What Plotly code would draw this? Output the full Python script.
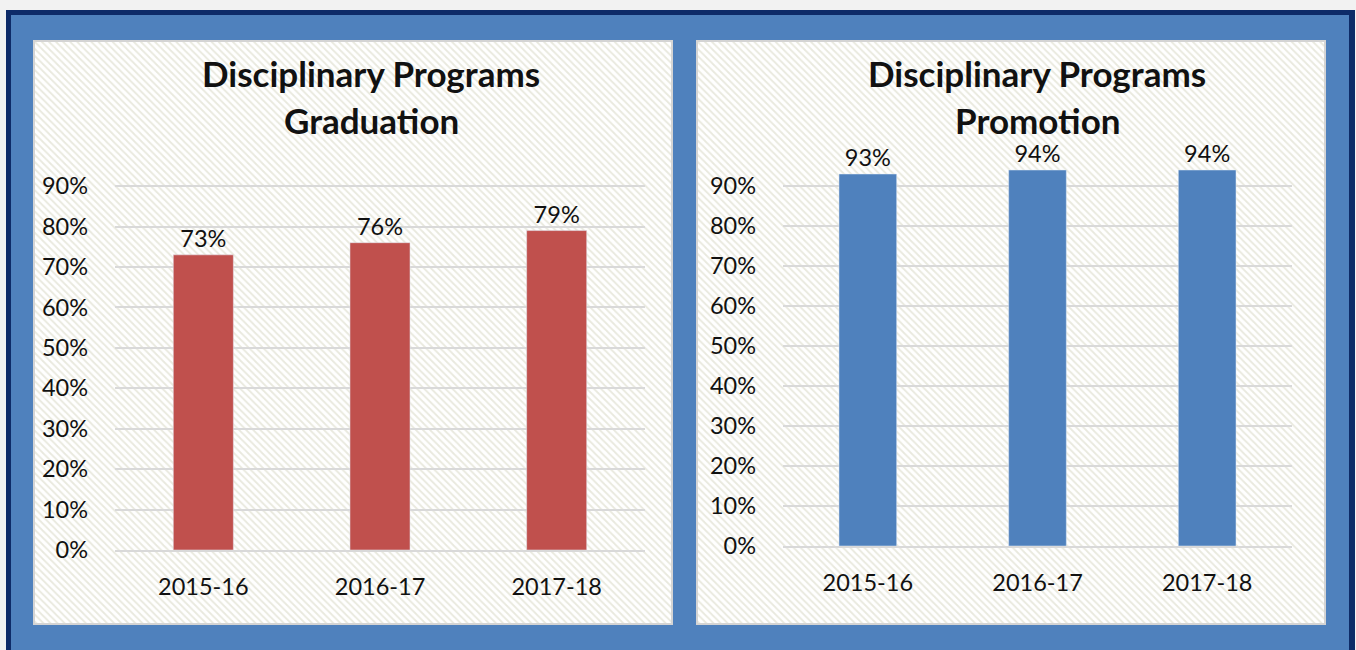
import plotly.graph_objects as go

# ---- data ----
years = ["2015-16", "2016-17", "2017-18"]
graduation = [0.73, 0.76, 0.79]
promotion = [0.93, 0.94, 0.94]
tick_vals = [0, 0.1, 0.2, 0.3, 0.4, 0.5, 0.6, 0.7, 0.8, 0.9]
title_left = ["Disciplinary Programs", "Graduation"]
title_right = ["Disciplinary Programs", "Promotion"]

W, H = 1356, 650
FONT = "Lato"
RED = "#c0504d"
BLUE = "#4f81bd"
NAVY = "#0e2b68"
GRID = "#d9d9d9"
TXT = "#111111"
TICK = 23.5


def fx(x):
    return x / W


def fy(y):
    return 1 - y / H


fig = go.Figure()

# hatch backgrounds of the two panels
for i, (xa, ya) in enumerate([("x", "y"), ("x2", "y2")]):
    fig.add_trace(go.Scatter(
        x=[0, 1, 1, 0, 0], y=[0, 0, 1, 1, 0], xaxis=xa, yaxis=ya,
        mode="lines", fill="toself", line=dict(width=0),
        fillcolor="white",
        fillpattern=dict(shape="\\", fgcolor="#e9e9de", bgcolor="white",
                         size=5, solidity=0.35, fillmode="replace"),
        hoverinfo="skip", showlegend=False))

fig.add_trace(go.Bar(
    x=years, y=graduation, xaxis="x3", yaxis="y3", marker_color=RED,
    texttemplate="%{y:.0%}", textposition="outside", cliponaxis=False,
    textfont=dict(size=TICK, color=TXT, family=FONT), showlegend=False))
fig.add_trace(go.Bar(
    x=years, y=promotion, xaxis="x4", yaxis="y4", marker_color=BLUE,
    texttemplate="%{y:.0%}", textposition="outside", cliponaxis=False,
    textfont=dict(size=TICK, color=TXT, family=FONT), showlegend=False))

hidden = dict(visible=False, range=[0, 1], fixedrange=True)
xcat = dict(showgrid=False, zeroline=False, showline=True, linecolor=GRID,
            linewidth=2, ticks="", tickfont=dict(size=TICK, color=TXT, family=FONT),
            ticklabelstandoff=15, fixedrange=True)
ycat = dict(tickvals=tick_vals, tickformat=".0%", showgrid=True, gridcolor=GRID,
            gridwidth=2, zeroline=False, showline=False, ticks="",
            tickfont=dict(size=TICK, color=TXT, family=FONT),
            ticklabelstandoff=26, fixedrange=True)

fig.update_layout(
    width=W, height=H,
    margin=dict(l=0, r=0, t=0, b=0, pad=0, autoexpand=False),
    paper_bgcolor="#f2f2f2",
    plot_bgcolor="rgba(0,0,0,0)",
    bargap=0.66,
    font=dict(family=FONT, color=TXT),
    xaxis=dict(domain=[fx(35), fx(671)], anchor="y", **hidden),
    yaxis=dict(domain=[fy(623), fy(42)], anchor="x", **hidden),
    xaxis2=dict(domain=[fx(698), fx(1324)], anchor="y2", **hidden),
    yaxis2=dict(domain=[fy(623), fy(42)], anchor="x2", **hidden),
    xaxis3=dict(domain=[fx(115), fx(645)], anchor="y3", **xcat),
    yaxis3=dict(domain=[fy(550), fy(178)], anchor="x3", range=[0, 0.92], **ycat),
    xaxis4=dict(domain=[fx(783), fx(1292)], anchor="y4", **xcat),
    yaxis4=dict(domain=[fy(546), fy(162)], anchor="x4", range=[0, 0.96], **ycat),
    shapes=[
        dict(type="rect", xref="paper", yref="paper", x0=fx(6), x1=fx(1355),
             y0=-0.01, y1=fy(10), fillcolor=NAVY, line=dict(width=0), layer="below"),
        dict(type="rect", xref="paper", yref="paper", x0=fx(11), x1=fx(1349),
             y0=-0.01, y1=fy(15), fillcolor=BLUE, line=dict(width=0), layer="below"),
        dict(type="rect", xref="paper", yref="paper", x0=fx(34), x1=fx(672),
             y0=fy(624), y1=fy(41), fillcolor="white",
             line=dict(color="#d4d4d4", width=2), layer="below"),
        dict(type="rect", xref="paper", yref="paper", x0=fx(697), x1=fx(1325),
             y0=fy(624), y1=fy(41), fillcolor="white",
             line=dict(color="#d4d4d4", width=2), layer="below"),
    ],
)

annots = []
for cx, lines in [(371, title_left), (1037, title_right)]:
    for ypx, txt in zip([73, 120], lines):
        annots.append(dict(x=fx(cx), y=fy(ypx), xref="paper", yref="paper",
                           text="<b>" + txt + "</b>", showarrow=False,
                           xanchor="center", yanchor="middle", borderpad=0,
                           font=dict(size=35, color=TXT, family=FONT)))
fig.update_layout(annotations=annots)

fig.write_html("out.html",
               config={"displayModeBar": False},
               post_script="document.body.style.margin='0';"
                           "document.body.style.overflow='hidden';")
